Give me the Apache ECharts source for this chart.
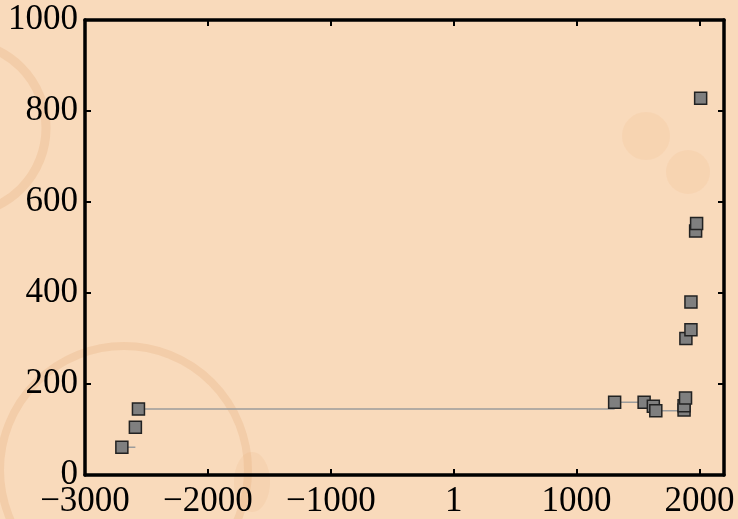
<!DOCTYPE html>
<html>
<head>
<meta charset="utf-8">
<script src="https://cdn.jsdelivr.net/npm/echarts@6/dist/echarts.min.js"></script>
<style>
html,body{margin:0;padding:0;background:#f9dabb;}
#c{width:738px;height:519px;}
</style>
</head>
<body>
<div id="c"></div>
<script>
// Data (year, value)
var years  = [-2700, -2590, -2565, 1310, 1550, 1625, 1645, 1875, 1875, 1887, 1890, 1931, 1931, 1969, 1977, 2010];
var values = [61, 105, 145, 160, 160, 151, 141, 143, 152, 169, 300, 319, 380, 536, 553, 828];
// thin connecting line segments ('-' = gap)
var lineYears  = [-2700, -2590, '-', -2565, 1310, '-', 1310, 1550, '-', 1645, 1875];
var lineValues = [61, 61, '-', 145, 145, '-', 160, 160, '-', 141, 141];
// axis ticks
var xTickValues = [-3000, -2000, -1000, 0, 1000, 2000];
var xTickLabels = ['\u22123000', '\u22122000', '\u22121000', '1', '1000', '2000'];
var yTickValues = [0, 200, 400, 600, 800, 1000];

var pts = years.map(function (y, i) { return [y, values[i]]; });
var linePts = lineYears.map(function (y, i) { return y === '-' ? '-' : [y, lineValues[i]]; });

var font = 'Liberation Serif';
var axisLine = {show: true, onZero: false, lineStyle: {color: '#000', width: 3.5}};
var tick = {show: true, inside: true, length: 6, lineStyle: {color: '#000', width: 2}};
function xLabel(v) {
  var i = xTickValues.indexOf(v);
  return i >= 0 ? xTickLabels[i] : '';
}

var chart = echarts.init(document.getElementById('c'));
chart.setOption({
  backgroundColor: '#f9dabb',
  animation: false,
  graphic: [
    {type: 'circle', z: -10, shape: {cx: -40, cy: 128, r: 86}, style: {fill: 'none', stroke: 'rgba(222,160,105,0.22)', lineWidth: 9}},
    {type: 'circle', z: -10, shape: {cx: 124, cy: 470, r: 124}, style: {fill: 'none', stroke: 'rgba(222,160,105,0.22)', lineWidth: 8}},
    {type: 'circle', z: -10, shape: {cx: 646, cy: 136, r: 24}, style: {fill: 'rgba(240,175,120,0.14)'}},
    {type: 'circle', z: -10, shape: {cx: 688, cy: 172, r: 22}, style: {fill: 'rgba(240,175,120,0.14)'}},
    {type: 'ellipse', z: -10, shape: {cx: 252, cy: 482, rx: 18, ry: 30}, style: {fill: 'rgba(230,165,110,0.12)'}}
  ],
  grid: {left: 85, right: 14, top: 20, bottom: 43, containLabel: false},
  xAxis: [{
    type: 'value', min: -3000, max: 2200, interval: 1000, position: 'bottom',
    axisLine: axisLine, axisTick: tick,
    axisLabel: {show: true, formatter: xLabel, color: '#000', fontFamily: font, fontSize: 35, margin: 9, showMaxLabel: false},
    splitLine: {show: false}
  }, {
    type: 'value', min: -3000, max: 2200, interval: 1000, position: 'top',
    axisLine: axisLine, axisTick: tick,
    axisLabel: {show: false},
    splitLine: {show: false}
  }],
  yAxis: [{
    type: 'value', min: 0, max: 1000, interval: 200, position: 'left',
    axisLine: axisLine, axisTick: tick,
    axisLabel: {show: true, color: '#000', fontFamily: font, fontSize: 35, margin: 7,
      formatter: function (v) { return yTickValues.indexOf(v) >= 0 ? String(v) : ''; }},
    splitLine: {show: false}
  }, {
    type: 'value', min: 0, max: 1000, interval: 200, position: 'right',
    axisLine: axisLine, axisTick: tick,
    axisLabel: {show: false},
    splitLine: {show: false}
  }],
  series: [{
    type: 'line', data: linePts, symbol: 'none', connectNulls: false,
    lineStyle: {color: '#9c9c9c', width: 1.5}, z: 2
  }, {
    type: 'scatter', data: pts, symbol: 'rect', symbolSize: 12,
    itemStyle: {color: '#7f7f7f', borderColor: '#222', borderWidth: 1.5, opacity: 1}, z: 3
  }]
});
</script>
</body>
</html>
